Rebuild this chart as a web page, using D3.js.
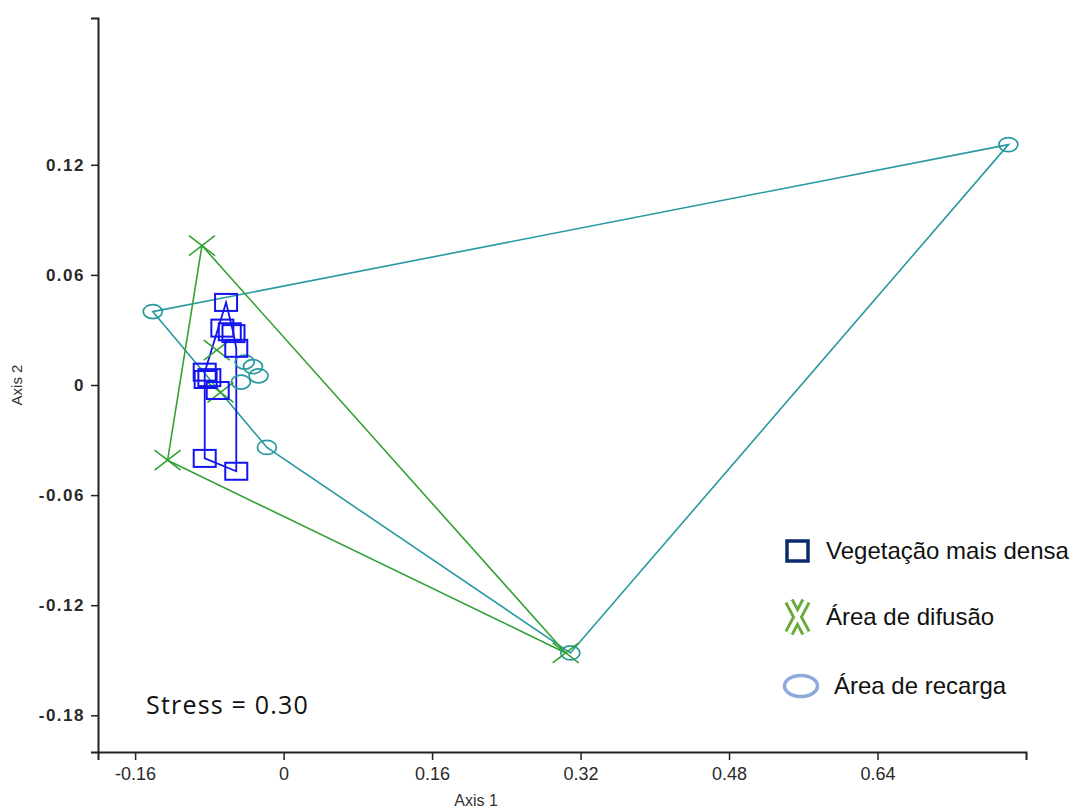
<!DOCTYPE html>
<html><head><meta charset="utf-8">
<script src="https://cdn.jsdelivr.net/npm/d3@7"></script>
<style>body{margin:0;background:#fff}</style>
</head><body>
<script>
// Data (NMDS axis scores)
const squaresX = [-0.062, -0.066, -0.058, -0.054, -0.051, -0.085, -0.080, -0.084, -0.071, -0.085, -0.051];
const squaresY = [0.045, 0.031, 0.029, 0.028, 0.020, 0.007, 0.004, 0.003, -0.003, -0.040, -0.047];
const crossesX = [-0.088, -0.125, 0.304, -0.072, -0.068];
const crossesY = [0.076, -0.041, -0.146, 0.019, -0.004];
const circlesX = [-0.141, 0.781, 0.309, -0.018, -0.042, -0.033, -0.027, -0.046];
const circlesY = [0.040, 0.131, -0.146, -0.034, 0.0125, 0.010, 0.005, 0.0016];
const xTicks = [-0.16, 0, 0.16, 0.32, 0.48, 0.64];
const yTicks = [0.12, 0.06, 0, -0.06, -0.12, -0.18];
const legendLabels = ["Vegetação mais densa", "Área de difusão", "Área de recarga"];

const W = 1073, H = 809;
const svg = d3.select("body").append("svg").attr("width", W).attr("height", H);
const x = d3.scaleLinear().domain([-0.2, 0.8]).range([98, 1026]);
const y = d3.scaleLinear().domain([-0.2, 0.2]).range([752, 18]);

const font = "'Liberation Sans', Arial, sans-serif";
const fmt = d => d === 0 ? "0" : d3.format(".2f")(d).replace("−", "-");
// axes
const xAxis = d3.axisBottom(x).tickValues(xTicks).tickSize(8).tickPadding(7).tickFormat(fmt);
const yAxis = d3.axisLeft(y).tickValues(yTicks).tickSize(7).tickPadding(6).tickFormat(fmt);
const gx = svg.append("g").attr("transform", "translate(0,752)").call(xAxis);
const gy = svg.append("g").attr("transform", "translate(98,0)").call(yAxis);
[gx, gy].forEach(g => {
  g.attr("font-family", font);
  g.select(".domain").attr("stroke", "#222").attr("stroke-width", 2);
  g.selectAll(".tick line").attr("stroke", "#222").attr("stroke-width", 1.5);
  g.selectAll(".tick text").attr("fill", "#2a2a2a");
});
gx.attr("font-size", 18);
gy.attr("font-size", 17).attr("font-weight", "bold");
gy.selectAll(".tick text").attr("letter-spacing", 1.5);
svg.append("text").attr("x", 476).attr("y", 806).attr("text-anchor", "middle")
  .attr("font-family", font).attr("font-size", 16).attr("fill", "#333").text("Axis 1");
svg.append("text").attr("transform", "translate(22,385) rotate(-90)").attr("text-anchor", "middle")
  .attr("font-family", font).attr("font-size", 15).attr("fill", "#333").text("Axis 2");

const blue = "#1414f0", green = "#34a034", teal = "#289aa0";
function pts(xs, ys) { return xs.map((v, i) => [x(v), y(ys[i])]); }
const sq = pts(squaresX, squaresY), cr = pts(crossesX, crossesY), ci = pts(circlesX, circlesY);

function hull(p, color, w) {
  const h = d3.polygonHull(p);
  svg.append("path").attr("d", "M" + h.join("L") + "Z")
    .attr("fill", "none").attr("stroke", color).attr("stroke-width", w);
}
hull(ci, teal, 1.6);
hull(cr, green, 1.6);
hull(sq, blue, 1.8);

// markers
svg.append("g").selectAll("ellipse").data(ci).join("ellipse")
  .attr("cx", d => d[0]).attr("cy", d => d[1]).attr("rx", 9.5).attr("ry", 7)
  .attr("fill", "none").attr("stroke", teal).attr("stroke-width", 1.7);
svg.append("g").selectAll("path").data(cr).join("path")
  .attr("d", d => `M${d[0]-13},${d[1]-10}L${d[0]+13},${d[1]+10}M${d[0]-13},${d[1]+10}L${d[0]+13},${d[1]-10}`)
  .attr("fill", "none").attr("stroke", green).attr("stroke-width", 1.6);
svg.append("g").selectAll("rect").data(sq).join("rect")
  .attr("x", d => d[0] - 11).attr("y", d => d[1] - 8.5).attr("width", 22).attr("height", 17)
  .attr("fill", "none").attr("stroke", blue).attr("stroke-width", 2);

// stress
svg.append("text").attr("x", 146).attr("y", 714).attr("font-family", "'Open Sans', Lato, sans-serif")
  .attr("font-size", 25).attr("letter-spacing", 1.2).attr("fill", "#111").text("Stress = 0.30");

// legend
const lg = svg.append("g");
lg.append("rect").attr("x", 787).attr("y", 541).attr("width", 21).attr("height", 20)
  .attr("fill", "none").attr("stroke", "#0b2a6b").attr("stroke-width", 3.5);
const xp = "M789,601L806,633M789,633L806,601";
lg.append("path").attr("d", xp).attr("stroke", "#6aaa3c").attr("stroke-width", 10).attr("fill", "none");
lg.append("path").attr("d", xp).attr("stroke", "#fff").attr("stroke-width", 4).attr("fill", "none");
lg.append("ellipse").attr("cx", 801).attr("cy", 686).attr("rx", 16.5).attr("ry", 10.5)
  .attr("fill", "none").attr("stroke", "#8eaadb").attr("stroke-width", 3.5);
const ly = [559, 625, 694], lx = [826, 826, 834];
legendLabels.forEach((t, i) => lg.append("text").attr("x", lx[i]).attr("y", ly[i])
  .attr("font-family", font).attr("font-size", 24).attr("fill", "#111").text(t));
</script>
</body></html>
